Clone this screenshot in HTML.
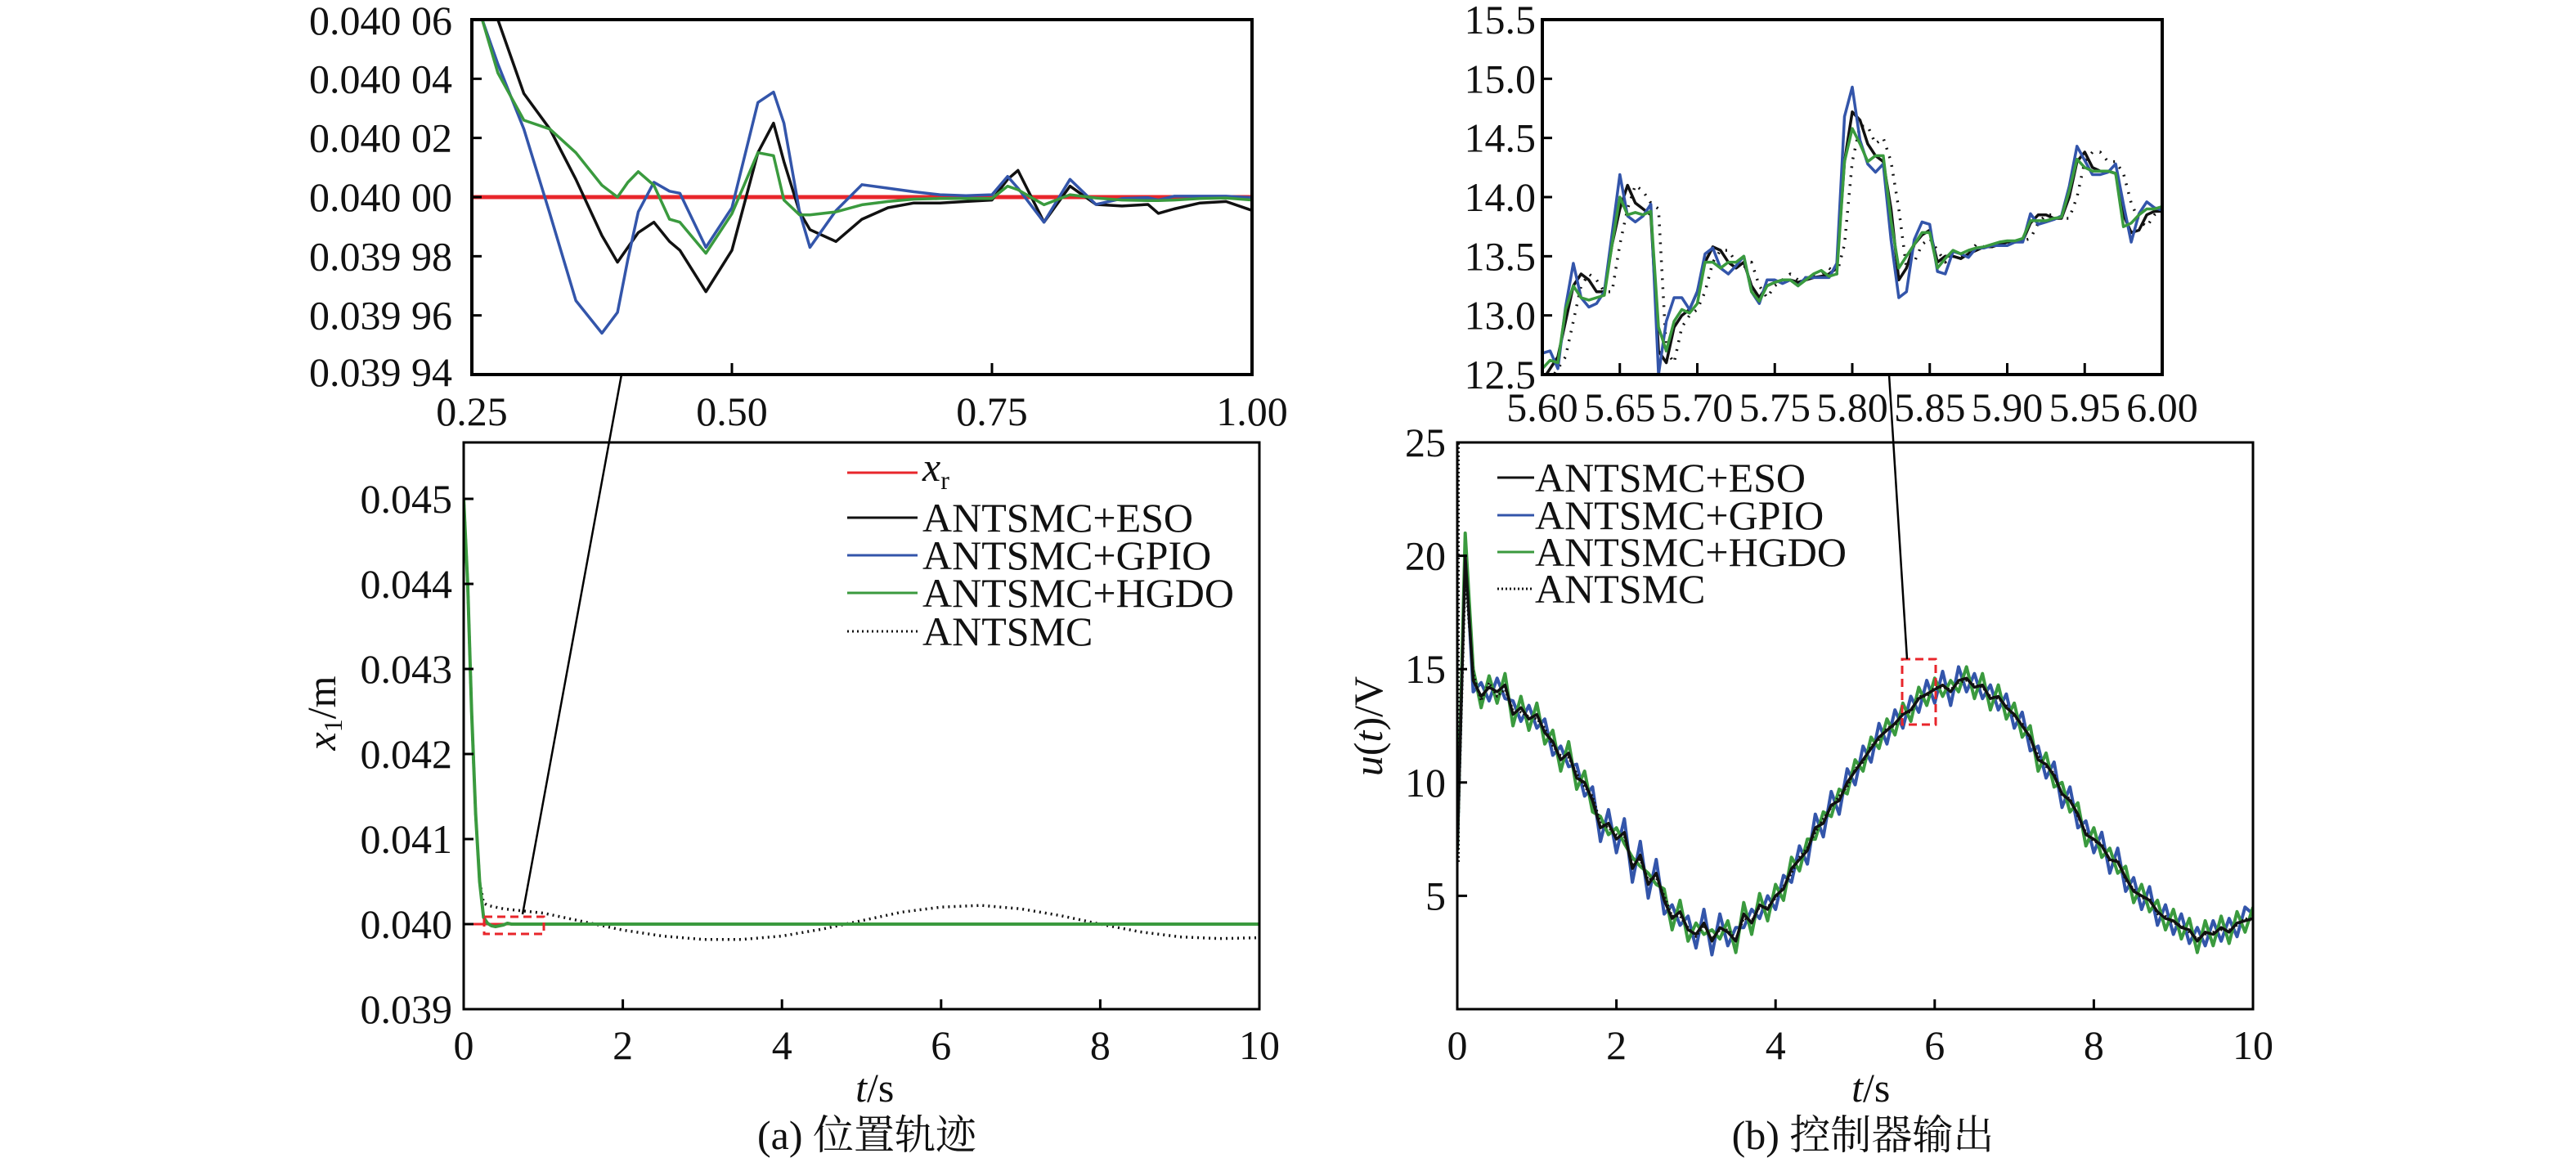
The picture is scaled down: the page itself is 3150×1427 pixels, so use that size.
<!DOCTYPE html>
<html><head><meta charset="utf-8"><style>
html,body{margin:0;padding:0;background:#fff;}
svg{display:block;font-family:"Liberation Serif","Noto Serif CJK SC",serif;}
</style></head><body>
<svg id="fig" width="3150" height="1427" viewBox="0 0 3150 1427" xmlns="http://www.w3.org/2000/svg">
<defs>
<clipPath id="c1"><rect x="577" y="24" width="954" height="434"/></clipPath>
<clipPath id="c2"><rect x="1886" y="24" width="758" height="434"/></clipPath>
<clipPath id="c3"><rect x="567" y="541" width="973" height="693"/></clipPath>
<clipPath id="c4"><rect x="1782" y="541" width="973" height="693"/></clipPath>
</defs>
<g id="layer"></g>
</svg>
<script>
// ---------- data ----------
const insetLT = [0.26,0.275,0.3,0.325,0.35,0.375,0.39,0.4,0.41,0.425,0.44,0.45,0.475,0.5,0.525,0.54,0.55,0.565,0.575,0.6,0.625,0.65,0.675,0.7,0.725,0.75,0.765,0.775,0.8,0.825,0.85,0.875,0.9,0.91,0.925,0.95,0.975,1.0];
// deviation from 0.04 in units of 1e-5
const insetLESO = [7.5,6,3.5,2.3,0.6,-1.3,-2.2,-1.7,-1.2,-0.85,-1.5,-1.8,-3.2,-1.8,1.5,2.5,1.2,-0.5,-1.1,-1.5,-0.75,-0.36,-0.2,-0.2,-0.15,-0.1,0.6,0.9,-0.85,0.37,-0.25,-0.3,-0.25,-0.55,-0.4,-0.2,-0.15,-0.45];
const insetLGPIO = [6,4.5,2.3,-0.56,-3.5,-4.6,-3.9,-2.1,-0.5,0.5,0.2,0.13,-1.7,-0.36,3.2,3.55,2.5,-0.5,-1.7,-0.46,0.42,0.3,0.18,0.08,0.05,0.08,0.7,0.3,-0.85,0.6,-0.25,-0.05,-0.02,-0.1,0.03,0.03,0.03,-0.02];
const insetLHGDO = [6,4.2,2.6,2.3,1.5,0.4,0,0.5,0.86,0.4,-0.75,-0.85,-1.9,-0.56,1.5,1.4,-0.1,-0.6,-0.6,-0.5,-0.26,-0.15,-0.07,-0.05,-0.05,-0.05,0.37,0.25,-0.26,0.08,-0.03,-0.1,-0.12,-0.12,-0.1,-0.05,-0.03,-0.1];
const insetLYTicks = [0.03994,0.03996,0.03998,0.04000,0.04002,0.04004,0.04006];
const insetLYLabels = ["0.039 94","0.039 96","0.039 98","0.040 00","0.040 02","0.040 04","0.040 06"];
const insetLXTicks = [0.25,0.5,0.75,1.0];
const insetLXLabels = ["0.25","0.50","0.75","1.00"];

const insetRT = [5.600,5.605,5.610,5.615,5.620,5.625,5.630,5.635,5.640,5.645,5.650,5.655,5.660,5.665,5.670,5.675,5.680,5.685,5.690,5.695,5.700,5.705,5.710,5.715,5.720,5.725,5.730,5.735,5.740,5.745,5.750,5.755,5.760,5.765,5.770,5.775,5.780,5.785,5.790,5.795,5.800,5.805,5.810,5.815,5.820,5.825,5.830,5.835,5.840,5.845,5.850,5.855,5.860,5.865,5.870,5.875,5.880,5.885,5.890,5.895,5.900,5.905,5.910,5.915,5.920,5.925,5.930,5.935,5.940,5.945,5.950,5.955,5.960,5.965,5.970,5.975,5.980,5.985,5.990,5.995,6.000];
const insetRGPIO = [12.68,12.7,12.55,13.07,13.44,13.15,13.07,13.1,13.2,13.69,14.19,13.84,13.79,13.84,13.94,12.5,12.95,13.15,13.15,13.05,13.2,13.52,13.57,13.4,13.35,13.42,13.5,13.2,13.1,13.3,13.3,13.27,13.3,13.25,13.32,13.32,13.32,13.32,13.44,14.68,14.93,14.48,14.28,14.21,14.28,13.64,13.15,13.2,13.64,13.79,13.77,13.37,13.35,13.54,13.52,13.49,13.57,13.57,13.59,13.59,13.59,13.62,13.62,13.86,13.77,13.79,13.81,13.84,14.09,14.43,14.31,14.19,14.19,14.21,14.28,13.94,13.62,13.86,13.96,13.91,13.89];
const insetRESO = [12.45,12.55,12.65,12.95,13.25,13.35,13.3,13.2,13.2,13.6,13.9,14.1,13.95,13.9,13.85,12.7,12.6,12.9,13.0,13.05,13.2,13.45,13.58,13.55,13.45,13.4,13.45,13.25,13.15,13.25,13.28,13.3,13.3,13.28,13.3,13.32,13.33,13.35,13.4,14.3,14.72,14.65,14.45,14.35,14.3,13.9,13.3,13.4,13.6,13.68,13.72,13.45,13.5,13.5,13.48,13.52,13.55,13.58,13.58,13.6,13.62,13.62,13.63,13.78,13.85,13.85,13.82,13.82,14.0,14.3,14.38,14.25,14.22,14.22,14.2,13.85,13.7,13.72,13.85,13.88,13.88];
const insetRHGDO = [12.55,12.62,12.6,13.05,13.25,13.15,13.13,13.15,13.17,13.6,14.0,13.85,13.87,13.85,13.88,12.9,12.7,12.95,13.05,13.02,13.1,13.45,13.45,13.4,13.45,13.45,13.5,13.2,13.12,13.25,13.28,13.3,13.3,13.25,13.3,13.35,13.38,13.33,13.35,14.3,14.58,14.45,14.3,14.35,14.35,13.8,13.4,13.5,13.6,13.7,13.7,13.4,13.48,13.55,13.52,13.55,13.57,13.58,13.6,13.62,13.63,13.63,13.65,13.8,13.8,13.8,13.82,13.83,14.05,14.32,14.25,14.22,14.22,14.22,14.2,13.75,13.78,13.85,13.9,13.9,13.92];
const insetRANTSMC = [12.4,12.45,12.55,12.65,12.95,13.25,13.35,13.3,13.2,13.2,13.6,13.9,14.1,14.05,13.95,13.9,12.7,12.6,12.9,13.0,13.05,13.2,13.45,13.55,13.55,13.45,13.4,13.45,13.25,13.15,13.25,13.3,13.35,13.3,13.32,13.33,13.35,13.4,13.35,13.6,14.3,14.6,14.6,14.45,14.5,14.3,13.9,13.4,13.45,13.6,13.65,13.55,13.45,13.5,13.5,13.52,13.6,13.58,13.58,13.6,13.62,13.62,13.63,13.65,13.78,13.85,13.85,13.82,13.82,14.0,14.3,14.38,14.38,14.3,14.3,14.2,13.95,13.8,13.75,13.85,13.88];
const insetRYTicks = [12.5,13.0,13.5,14.0,14.5,15.0,15.5];
const insetRYLabels = ["12.5","13.0","13.5","14.0","14.5","15.0","15.5"];
const insetRXTicks = [5.60,5.65,5.70,5.75,5.80,5.85,5.90,5.95,6.00];
const insetRXLabels = ["5.60","5.65","5.70","5.75","5.80","5.85","5.90","5.95","6.00"];

const mainLT = [0,0.05,0.1,0.15,0.2,0.25,0.3,0.35,0.4,0.5,0.55,0.6,1,10];
const mainLObs = [0.045,0.0440,0.0425,0.0413,0.0405,0.04008,0.04001,0.03998,0.03997,0.03999,0.04001,0.04000,0.04000,0.04000];
const mainLAT = [0,0.05,0.1,0.15,0.2,0.25,0.3,0.5,1,1.5,2,2.5,3,3.5,4,4.5,5,5.5,6,6.5,7,7.5,8,8.5,9,9.5,10];
const mainLANTSMC = [0.045,0.0440,0.0425,0.0413,0.0405,0.04025,0.04022,0.04018,0.04013,0.04003,0.03993,0.03986,0.03982,0.03982,0.03986,0.03994,0.04004,0.04014,0.04020,0.04022,0.04018,0.04010,0.04000,0.03991,0.03985,0.03983,0.03984];
const mainLRef = [0.04,0.04];
const mainLRefT = [0,10];
const mainLYTicks = [0.039,0.040,0.041,0.042,0.043,0.044,0.045];
const mainLYLabels = ["0.039","0.040","0.041","0.042","0.043","0.044","0.045"];
const mainXTicks = [0,2,4,6,8,10];
const mainXLabels = ["0","2","4","6","8","10"];

const mainRT = [0,0.1,0.2,0.3,0.4,0.5,0.6,0.7,0.8,0.9,1.0,1.1,1.2,1.3,1.4,1.5,1.6,1.7,1.8,1.9,2.0,2.1,2.2,2.3,2.4,2.5,2.6,2.7,2.8,2.9,3.0,3.1,3.2,3.3,3.4,3.5,3.6,3.7,3.8,3.9,4.0,4.1,4.2,4.3,4.4,4.5,4.6,4.7,4.8,4.9,5.0,5.1,5.2,5.3,5.4,5.5,5.6,5.7,5.8,5.9,6.0,6.1,6.2,6.3,6.4,6.5,6.6,6.7,6.8,6.9,7.0,7.1,7.2,7.3,7.4,7.5,7.6,7.7,7.8,7.9,8.0,8.1,8.2,8.3,8.4,8.5,8.6,8.7,8.8,8.9,9.0,9.1,9.2,9.3,9.4,9.5,9.6,9.7,9.8,9.9,10];
const mainRGPIO = [7,20.5,14.0,14.4,13.6,14.6,13.7,13.6,12.7,13.4,12.4,12.8,11.2,11.6,10.7,10.8,9.4,9.8,7.4,8.8,6.9,8.4,5.6,7.4,4.9,6.6,4.2,4.6,3.7,4.1,2.7,4.4,2.4,4.2,2.8,3.6,3.6,4.4,4.0,5.0,4.4,5.9,5.6,7.2,6.4,8.6,7.6,9.6,8.6,10.6,9.9,11.6,10.9,12.6,11.7,13.2,12.4,13.8,13.1,14.5,13.5,14.9,13.4,15.1,14.0,14.8,13.7,14.3,13.2,13.9,12.4,13.1,11.4,11.6,10.2,10.9,8.9,9.8,8.0,8.3,6.9,7.8,6.0,7.1,5.2,5.8,4.4,5.4,3.7,4.6,3.3,4.2,2.9,3.6,2.8,3.9,3.0,4.0,3.2,4.5,4.2];
const mainRHGDO = [7,21,15.0,13.3,14.7,13.5,14.8,12.5,13.8,12.3,13.5,11.7,12.3,10.5,11.8,9.7,10.5,8.7,8.5,7.7,8.0,7.3,6.7,6.3,6.0,5.5,5.3,3.5,4.8,3.0,3.8,3.3,3.5,3.1,3.9,2.5,4.7,3.3,5.1,3.9,5.5,4.8,6.7,6.1,7.5,7.5,8.7,8.5,9.7,9.5,11.0,10.5,12.0,11.5,12.8,12.1,13.5,12.7,14.2,13.4,14.6,13.8,14.5,14.0,15.1,13.7,14.8,13.2,14.3,12.8,13.5,12.0,12.5,10.5,11.3,9.8,10.0,8.7,9.1,7.2,8.0,6.7,7.1,6.0,6.3,4.7,5.5,4.3,4.8,3.5,4.4,3.1,4.0,2.5,3.9,2.8,4.1,2.9,4.3,3.4,4.5];
const mainRESO = [7,20,14.5,13.8,14.2,14.0,14.3,13.0,13.3,12.8,13.0,12.2,11.8,11.0,11.3,10.2,10.0,9.2,8.0,8.2,7.5,7.8,6.2,6.8,5.5,6.0,4.8,4.0,4.3,3.5,3.3,3.8,3.0,3.6,3.4,3.0,4.2,3.8,4.6,4.4,5.0,5.3,6.2,6.6,7.0,8.0,8.2,9.0,9.2,10.0,10.5,11.0,11.5,12.0,12.3,12.6,13.0,13.2,13.7,13.9,14.1,14.3,14.0,14.5,14.6,14.2,14.3,13.7,13.8,13.3,13.0,12.5,12.0,11.0,10.8,10.3,9.5,9.2,8.6,7.7,7.5,7.2,6.6,6.5,5.8,5.2,5.0,4.8,4.3,4.0,3.9,3.6,3.5,3.0,3.4,3.3,3.6,3.4,3.8,3.9,4.0];
const mainRANTSMC = [6.5,19,14.8,13.6,14.4,13.8,14.1,13.2,13.1,12.9,12.8,12.4,11.6,11.2,11.1,10.4,9.8,9.4,8.2,8.0,7.7,7.6,6.4,6.6,5.7,5.8,5.0,4.1,4.1,3.6,3.2,3.7,3.1,3.5,3.5,3.1,4.0,3.9,4.5,4.5,4.9,5.4,6.0,6.7,7.1,7.8,8.4,8.9,9.4,9.8,10.6,10.9,11.6,11.9,12.4,12.5,13.1,13.1,13.8,13.8,14.2,14.2,14.1,14.4,14.5,14.3,14.2,13.8,13.7,13.4,12.9,12.6,11.9,11.2,10.7,10.4,9.4,9.3,8.5,7.8,7.4,7.3,6.5,6.6,5.7,5.3,4.9,4.9,4.2,4.1,3.8,3.7,3.4,3.1,3.3,3.4,3.5,3.5,3.7,4.0,3.9];
const mainRYTicks = [5,10,15,20,25];
const mainRYLabels = ["5","10","15","20","25"];

// ---------- drawing ----------
const NS = "http://www.w3.org/2000/svg";
const layer = document.getElementById('layer');
function mk(tag, attrs, parent){
  const e = document.createElementNS(NS, tag);
  for (const k in attrs) e.setAttribute(k, attrs[k]);
  (parent||layer).appendChild(e);
  return e;
}
function scale(d0,d1,r0,r1){ return v => r0 + (v-d0)/(d1-d0)*(r1-r0); }
function series(xs, ys, sx, sy, color, w, clip, dash, name){
  let d = '';
  for (let i=0;i<xs.length;i++) d += (i?'L':'M') + sx(xs[i]).toFixed(1) + ' ' + sy(ys[i]).toFixed(1);
  const p = mk('path', {d:d, fill:'none', stroke:color, 'stroke-width':w, 'clip-path':'url(#'+clip+')', 'stroke-linejoin':'round'});
  if (dash) p.setAttribute('stroke-dasharray', dash);
  
  
  return p;
}
function text(x,y,str,size,anchor,name,extra){
  const t = mk('text', Object.assign({x:x,y:y,'font-size':size,'text-anchor':anchor||'middle',fill:'#111'}, extra||{}));
  t.textContent = str;
  
  
  return t;
}
function frame(x,y,w,h,sw,name){
  const r = mk('rect',{x:x,y:y,width:w,height:h,fill:'none',stroke:'#000','stroke-width':sw});
  
  
}
function yTicks(ticks, labels, sy, x0, fs, name, tl, gap){
  ticks.forEach((v,i)=>{
    const y = sy(v);
    const l = mk('line',{x1:x0,x2:x0+tl,y1:y,y2:y,stroke:'#000','stroke-width':3});
    
    
    text(x0-gap, y+fs*0.34, labels[i], fs, 'end', name+'-label');
  });
}
function xTicks(ticks, labels, sx, y0, fs, name, tl, ly){
  ticks.forEach((v,i)=>{
    const x = sx(v);
    const l = mk('line',{x1:x,x2:x,y1:y0,y2:y0-tl,stroke:'#000','stroke-width':3});
    
    
    text(x, ly, labels[i], fs, 'middle', name+'-label');
  });
}
const FS = 50;

// Inset left
const s1x = scale(0.25,1.0,577,1531), s1yv = scale(0.03994,0.04006,458,24);
const s1y = v => s1yv(0.04 + v*1e-5);
series([0.25,1.0],[0,0],s1x,s1y,'#e8262b',5,'c1',null,'inset-left-xr-line');
series(insetLT,insetLESO,s1x,s1y,'#111',3.5,'c1',null,'inset-left-eso-line');
series(insetLT,insetLGPIO,s1x,s1y,'#3355aa',3.5,'c1',null,'inset-left-gpio-line');
series(insetLT,insetLHGDO,s1x,s1y,'#3a9a3e',3.5,'c1',null,'inset-left-hgdo-line');
frame(577,24,954,434,4,'inset-left-frame');
yTicks(insetLYTicks.slice(1,6), insetLYLabels.slice(1,6), s1yv, 577, FS, 'inset-left-y', 12, 24);
text(553, 42, insetLYLabels[6], FS, 'end', 'inset-left-y-label');
text(553, 472, insetLYLabels[0], FS, 'end', 'inset-left-y-label');
xTicks(insetLXTicks.slice(1,3), insetLXLabels.slice(1,3), s1x, 458, FS, 'inset-left-x', 14, 520);
text(s1x(0.25), 520, insetLXLabels[0], FS, 'middle', 'inset-left-x-label');
text(s1x(1.0), 520, insetLXLabels[3], FS, 'middle', 'inset-left-x-label');

// Inset right
const s2x = scale(5.6,6.0,1886,2644), s2y = scale(12.5,15.5,458,24);
series(insetRT,insetRANTSMC,s2x,s2y,'#111',3.5,'c2','2 9','inset-right-antsmc-line');
series(insetRT,insetRESO,s2x,s2y,'#111',3.5,'c2',null,'inset-right-eso-line');
series(insetRT,insetRGPIO,s2x,s2y,'#3355aa',3.5,'c2',null,'inset-right-gpio-line');
series(insetRT,insetRHGDO,s2x,s2y,'#3a9a3e',3.5,'c2',null,'inset-right-hgdo-line');
frame(1886,24,758,434,4,'inset-right-frame');
insetRYTicks.forEach((v,i)=>{
  const y = s2y(v);
  if (i>0 && i<6) { const l = mk('line',{x1:1886,x2:1898,y1:y,y2:y,stroke:'#000','stroke-width':3});   }
  text(1878, y+17, insetRYLabels[i], FS, 'end', 'inset-right-y-label');
});
xTicks(insetRXTicks, insetRXLabels, s2x, 458, FS, 'inset-right-x', 14, 515);

// Main left
const s3x = scale(0,10,567,1540), s3y = scale(0.039,0.045,1234,610);
series(mainLAT,mainLANTSMC,s3x,s3y,'#111',3.5,'c3','2 5','main-left-antsmc-line');
series(mainLRefT,mainLRef,s3x,s3y,'#e8262b',3,'c3',null,'main-left-xr-line');
series(mainLT,mainLObs,s3x,s3y,'#111',3,'c3',null,'main-left-eso-line');
series(mainLT,mainLObs,s3x,s3y,'#3355aa',3,'c3',null,'main-left-gpio-line');
series(mainLT,mainLObs,s3x,s3y,'#3a9a3e',4,'c3',null,'main-left-hgdo-line');
frame(567,541,973,693,3,'main-left-frame');
yTicks(mainLYTicks, mainLYLabels, s3y, 567, FS, 'main-left-y', 12, 14);
xTicks(mainXTicks, mainXLabels, s3x, 1234, FS, 'main-left-x', 12, 1295);
text(1060, 1347, 't', FS, 'end', 'main-left-x-title', {'font-style':'italic'});
text(1060, 1347, '/s', FS, 'start', 'main-left-x-title-unit');
const yl = mk('text',{x:0,y:0,'font-size':FS,'text-anchor':'middle',transform:'translate(410,872) rotate(-90)',fill:'#111'});
 
yl.innerHTML = '<tspan font-style="italic">x</tspan><tspan font-size="32" dy="8">1</tspan><tspan dy="-8">/m</tspan>';
text(1060, 1405, '(a) 位置轨迹', FS, 'middle', 'caption-a');
// legend left
const legL = [['#e8262b',null,'x_r'],['#111',null,'ANTSMC+ESO'],['#3355aa',null,'ANTSMC+GPIO'],['#3a9a3e',null,'ANTSMC+HGDO'],['#111','2 4','ANTSMC']];
const legLY = [578,633,679,725,772];
legL.forEach((e,i)=>{
  const l = mk('line',{x1:1036,x2:1122,y1:legLY[i],y2:legLY[i],stroke:e[0],'stroke-width':3});
  if (e[1]) l.setAttribute('stroke-dasharray', e[1]);
   
  if (e[2]==='x_r'){
    const t = mk('text',{x:1128,y:legLY[i]+10,'font-size':FS,fill:'#111'});
     
    t.innerHTML = '<tspan font-style="italic">x</tspan><tspan font-size="32" dy="10">r</tspan>';
  } else text(1128, legLY[i]+17, e[2], FS, 'start', 'legend-left-label');
});
const zb1 = mk('rect',{x:592,y:1121,width:73,height:21,fill:'none',stroke:'#e8262b','stroke-width':3,'stroke-dasharray':'10 6'});
 
const cn1 = mk('line',{x1:760,y1:458,x2:639,y2:1118,stroke:'#000','stroke-width':2.5});
 

// Main right
const s4x = scale(0,10,1782,2755), s4y = scale(0,25,1234,541);
series(mainRT,mainRGPIO,s4x,s4y,'#3355aa',4,'c4',null,'main-right-gpio-line');
series(mainRT,mainRHGDO,s4x,s4y,'#3a9a3e',4,'c4',null,'main-right-hgdo-line');
series(mainRT,mainRESO,s4x,s4y,'#111',3.5,'c4',null,'main-right-eso-line');
series(mainRT,mainRANTSMC,s4x,s4y,'#111',3,'c4','2 3','main-right-antsmc-line');
const ini = mk('line',{x1:1784,x2:1784,y1:s4y(6.5),y2:s4y(25),stroke:'#111','stroke-width':2,'stroke-dasharray':'2 3'});
 
frame(1782,541,973,693,3,'main-right-frame');
yTicks(mainRYTicks, mainRYLabels, s4y, 1782, FS, 'main-right-y', 12, 14);
xTicks(mainXTicks, mainXLabels, s4x, 1234, FS, 'main-right-x', 12, 1295);
text(2278, 1347, 't', FS, 'end', 'main-right-x-title', {'font-style':'italic'});
text(2278, 1347, '/s', FS, 'start', 'main-right-x-title-unit');
const yr = mk('text',{x:0,y:0,'font-size':FS,'text-anchor':'middle',transform:'translate(1690,888) rotate(-90)',fill:'#111'});
 
yr.innerHTML = '<tspan font-style="italic">u</tspan>(<tspan font-style="italic">t</tspan>)/V';
text(2278, 1405, '(b) 控制器输出', FS, 'middle', 'caption-b');
const legR = [['#111',null,'ANTSMC+ESO'],['#3355aa',null,'ANTSMC+GPIO'],['#3a9a3e',null,'ANTSMC+HGDO'],['#111','2 3','ANTSMC']];
const legRY = [584,630,675,720];
legR.forEach((e,i)=>{
  const l = mk('line',{x1:1831,x2:1876,y1:legRY[i],y2:legRY[i],stroke:e[0],'stroke-width':3});
  if (e[1]) l.setAttribute('stroke-dasharray', e[1]);
   
  text(1877, legRY[i]+17, e[2], FS, 'start', 'legend-right-label');
});
const zb2 = mk('rect',{x:2326,y:806,width:41,height:80,fill:'none',stroke:'#e8262b','stroke-width':3,'stroke-dasharray':'10 6'});
 
const cn2 = mk('line',{x1:2310,y1:458,x2:2332,y2:806,stroke:'#000','stroke-width':2.5});
 
</script>
</body></html>
